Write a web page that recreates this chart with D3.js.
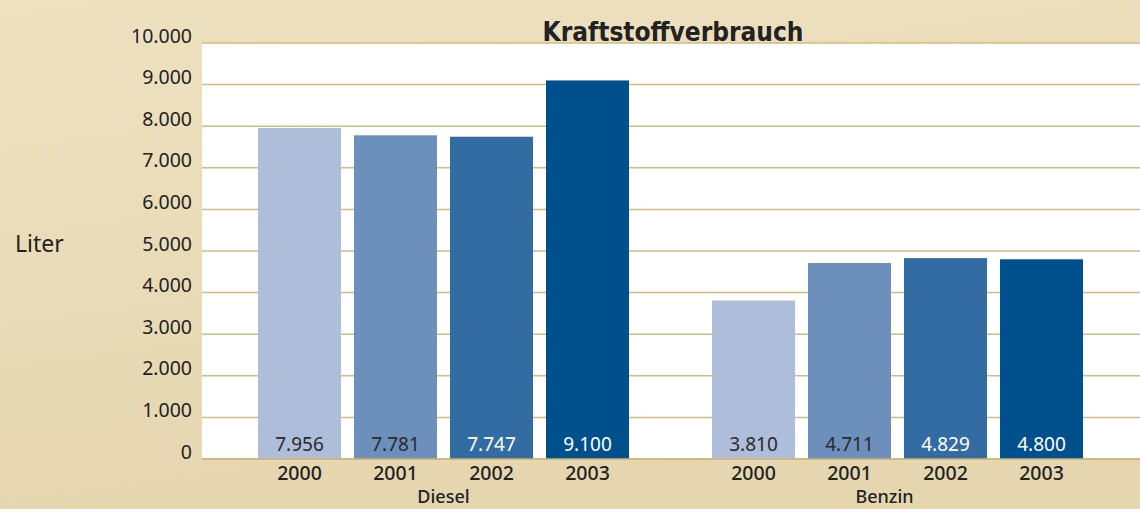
<!DOCTYPE html>
<html>
<head>
<meta charset="utf-8">
<script src="https://cdn.jsdelivr.net/npm/d3@7"></script>
<style>
  body { margin: 0; background: #ecdfbd; }
  svg { display: block; }
</style>
</head>
<body>
<div id="chart-area"></div>
<script>
// data
var groups = ["Diesel", "Benzin"];
var years = ["2000", "2001", "2002", "2003"];
var diesel = [7956, 7781, 7747, 9100];
var benzin = [3810, 4711, 4829, 4800];
var yTicks = [0, 1000, 2000, 3000, 4000, 5000, 6000, 7000, 8000, 9000, 10000];
var barColors = ["#aebdda", "#6d8fbc", "#336ba3", "#00508e"];
var labelColors = ["#2b2b2b", "#2b2b2b", "#ffffff", "#ffffff"];

var width = 1140, height = 509;
var plot = { left: 202, right: 1140, top: 43, bottom: 459 };

var de = d3.formatLocale({ decimal: ",", thousands: ".", grouping: [3], currency: ["", " €"] });
var fmt = de.format(",d");

var svg = d3.select("#chart-area")
    .append("svg")
    .attr("width", width)
    .attr("height", height);

// background
var defs = svg.append("defs");
var grad = defs.append("linearGradient")
    .attr("id", "bg")
    .attr("x1", 0).attr("y1", 0).attr("x2", 0.3).attr("y2", 1);
grad.append("stop").attr("offset", "0%").attr("stop-color", "#eee1c0");
grad.append("stop").attr("offset", "100%").attr("stop-color", "#e5d6b0");
svg.append("rect").attr("width", width).attr("height", height).attr("fill", "url(#bg)");

svg.append("rect")
    .attr("x", plot.left).attr("y", plot.top)
    .attr("width", plot.right - plot.left)
    .attr("height", plot.bottom - plot.top)
    .attr("fill", "#ffffff");

// scales
var y = d3.scaleLinear()
    .domain([0, 10000])
    .range([plot.bottom, plot.top]);

var x0 = d3.scaleBand()
    .domain(groups)
    .range([258, 1083])
    .paddingInner(0.1828)
    .paddingOuter(0);

var x1 = d3.scaleBand()
    .domain(years)
    .range([0, x0.bandwidth()])
    .paddingInner(0.1354)
    .paddingOuter(0);

// grid lines
svg.append("g")
    .selectAll("line")
    .data(yTicks)
    .enter().append("line")
    .attr("x1", plot.left)
    .attr("x2", plot.right)
    .attr("y1", function(d) { return y(d); })
    .attr("y2", function(d) { return y(d); })
    .attr("stroke", "#d3bb82")
    .attr("stroke-width", 1.5);

// y axis
var yAxis = svg.append("g")
    .attr("transform", "translate(" + plot.left + ",0)")
    .call(d3.axisLeft(y).tickValues(yTicks).tickFormat(fmt).tickSize(0).tickPadding(10));
yAxis.select(".domain").remove();
yAxis.selectAll("text")
    .attr("font-family", "Noto Sans, sans-serif")
    .attr("font-size", 19.5)
    .attr("fill", "#222")
    .attr("dy", "-0.05em");

svg.append("text")
    .attr("x", 15).attr("y", 252)
    .attr("font-family", "Noto Sans, sans-serif")
    .attr("font-size", 23)
    .attr("fill", "#222")
    .text("Liter");

// title
svg.append("text")
    .attr("x", 673).attr("y", 41)
    .attr("text-anchor", "middle")
    .attr("font-family", "Liberation Sans Narrow, DejaVu Sans Condensed, sans-serif")
    .attr("font-weight", "bold")
    .attr("font-size", 26)
    .attr("fill", "#222")
    .text("Kraftstoffverbrauch");

// bars
var series = [diesel, benzin];
groups.forEach(function(g, gi) {
    var grp = svg.append("g").attr("transform", "translate(" + x0(g) + ",0)");

    grp.selectAll(".bar")
        .data(series[gi])
        .enter().append("rect")
        .attr("class", "bar")
        .attr("x", function(d, i) { return x1(years[i]); })
        .attr("y", function(d) { return y(d); })
        .attr("width", x1.bandwidth())
        .attr("height", function(d) { return y(0) - y(d); })
        .attr("fill", function(d, i) { return barColors[i]; });

    grp.selectAll(".val")
        .data(series[gi])
        .enter().append("text")
        .attr("class", "val")
        .attr("x", function(d, i) { return x1(years[i]) + x1.bandwidth() / 2; })
        .attr("y", y(0) - 8)
        .attr("text-anchor", "middle")
        .attr("font-family", "Noto Sans, sans-serif")
        .attr("font-size", 19)
        .attr("fill", function(d, i) { return labelColors[i]; })
        .text(function(d) { return fmt(d); });

    grp.selectAll(".yr")
        .data(years)
        .enter().append("text")
        .attr("class", "yr")
        .attr("x", function(d) { return x1(d) + x1.bandwidth() / 2; })
        .attr("y", 480)
        .attr("text-anchor", "middle")
        .attr("font-family", "Noto Sans, sans-serif")
        .attr("font-weight", 500)
        .attr("font-size", 19.5)
        .attr("fill", "#222")
        .text(function(d) { return d; });

    grp.append("text")
        .attr("x", x0.bandwidth() / 2 - (gi == 1 ? 13 : 0))
        .attr("y", 503)
        .attr("text-anchor", "middle")
        .attr("font-family", "Noto Sans, sans-serif")
        .attr("font-weight", 500)
        .attr("font-size", 18)
        .attr("fill", "#222")
        .text(g);
});

// zero line on top
svg.append("line")
    .attr("x1", plot.left).attr("x2", plot.right)
    .attr("y1", y(0)).attr("y2", y(0))
    .attr("stroke", "#cdb37a")
    .attr("stroke-width", 1.5);
</script>
</body>
</html>
